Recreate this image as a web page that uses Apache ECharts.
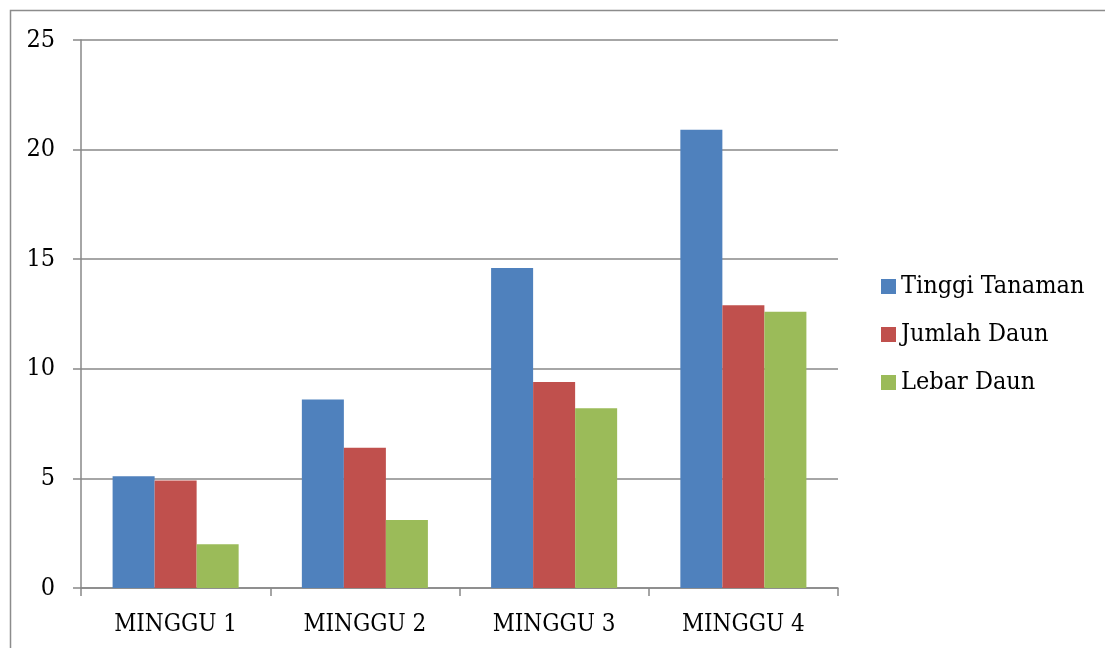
<!DOCTYPE html>
<html>
<head>
<meta charset="utf-8">
<style>
html,body{margin:0;padding:0;background:#fff;}
#chart{width:1105px;height:648px;}
</style>
<script src="https://cdn.jsdelivr.net/npm/echarts@6/dist/echarts.min.js"></script>
</head>
<body>
<div id="chart"></div>
<script>
const categories = ['MINGGU 1', 'MINGGU 2', 'MINGGU 3', 'MINGGU 4'];
const seriesNames = ['Tinggi Tanaman', 'Jumlah Daun', 'Lebar Daun'];
const tinggiTanaman = [5.1, 8.6, 14.6, 20.9];
const jumlahDaun = [4.9, 6.4, 9.4, 12.9];
const lebarDaun = [2.0, 3.1, 8.2, 12.6];
const colors = ['#4F81BD', '#C0504D', '#9BBB59'];

const FONT = '"DejaVu Serif Condensed", "DejaVu Serif", serif';
const chart = echarts.init(document.getElementById('chart'), null, {renderer: 'canvas'});
const mk = (name, data, color) => ({
  name, type: 'bar', data, barGap: '0%', barCategoryGap: '33.4%',
  itemStyle: {color}, animation: false
});
chart.setOption({
  animation: false,
  textStyle: {fontFamily: FONT},
  graphic: [{
    type: 'rect', shape: {x: 10.5, y: 10.5, width: 1200, height: 800},
    style: {fill: 'none', stroke: '#8c8c8c', lineWidth: 1.5}, z: -10
  }],
  grid: {left: 81, right: 267, top: 40, bottom: 60},
  legend: {
    orient: 'vertical', left: 881, top: 274, padding: 0,
    itemWidth: 15, itemHeight: 15, itemGap: 23,
    icon: 'rect',
    textStyle: {fontFamily: FONT, fontSize: 25, color: '#000', lineHeight: 24},
    data: seriesNames
  },
  xAxis: {
    type: 'category', data: categories,
    axisLine: {lineStyle: {color: '#888', width: 1.5}},
    axisTick: {show: true, length: 8, inside: false, alignWithLabel: false, lineStyle: {color: '#888', width: 1.5}},
    axisLabel: {fontFamily: FONT, fontSize: 24, color: '#000', margin: 25}
  },
  yAxis: {
    type: 'value', min: 0, max: 25, interval: 5,
    axisLine: {show: true, lineStyle: {color: '#888', width: 1.5}},
    axisTick: {show: true, length: 8, lineStyle: {color: '#888', width: 1.5}},
    splitLine: {show: true, lineStyle: {color: '#888', width: 1.5}},
    axisLabel: {fontFamily: FONT, fontSize: 25, color: '#000', margin: 26}
  },
  series: [
    mk(seriesNames[0], tinggiTanaman, colors[0]),
    mk(seriesNames[1], jumlahDaun, colors[1]),
    mk(seriesNames[2], lebarDaun, colors[2])
  ]
});
</script>
</body>
</html>
